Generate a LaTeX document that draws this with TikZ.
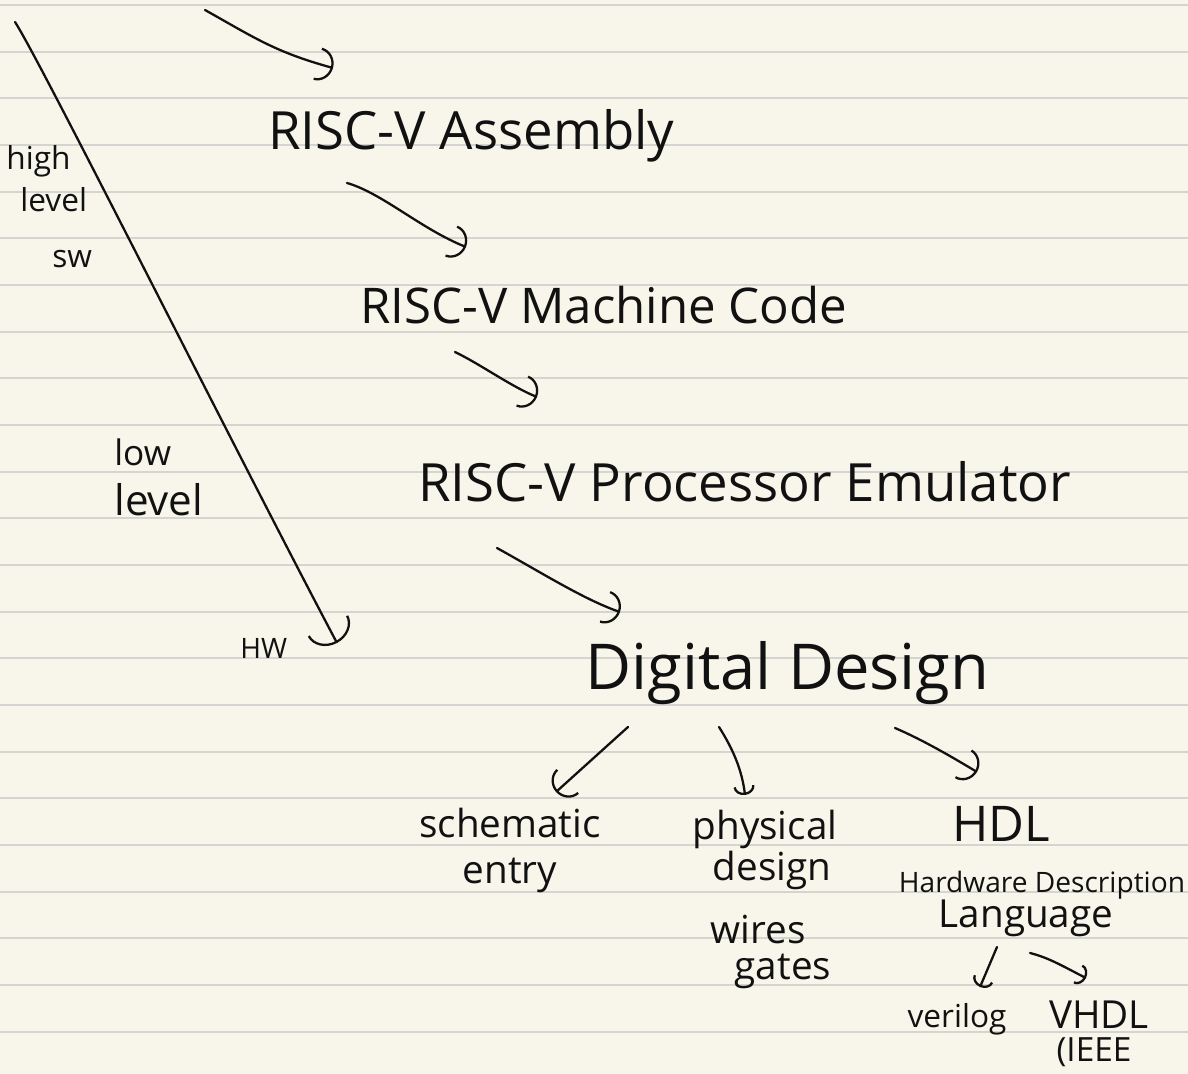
\documentclass[tikz,border=0pt]{standalone}
\usepackage{fontspec}
\setmainfont{Open Sans}
\usetikzlibrary{arrows.meta,calc}
\definecolor{paper}{RGB}{248,246,234}
\definecolor{ruling}{RGB}{212,212,208}
\definecolor{pen}{RGB}{17,17,17}
\newcommand{\hwsize}[1]{\fontsize{#1}{#1}\selectfont}

\begin{document}
\begin{tikzpicture}[x=0.02cm,y=-0.02cm,
  txt/.style={inner sep=0pt, anchor=base west, text=pen},
  ctr/.style={inner sep=0pt, anchor=base, text=pen},
  stroke/.style={line width=1.3pt, draw=pen, line cap=round, line join=round},
  flow/.style={stroke, -{Arc Barb[length=9pt,width=19pt]}},
  flowbig/.style={stroke, -{Arc Barb[length=11pt,width=26pt]}},
  flowsm/.style={stroke, -{Arc Barb[length=5pt,width=12pt]}},
]
% paper and ruled lines
\fill[paper] (0,0) rectangle (1188,1074);
\useasboundingbox (0,0) rectangle (1188,1074);
\foreach \k in {0,...,22}
  \draw[ruling, line width=1.1pt] (0,{5+46.667*\k}) -- (1188,{5+46.667*\k});

% main chain
\node[txt, font=\hwsize{30}] (asm) at (268,150) {RISC-V Assembly};
\node[txt, font=\hwsize{28}] (mc)  at (360,324) {RISC-V Machine Code};
\node[txt, font=\hwsize{30}] (emu) at (418,502) {RISC-V Processor Emulator};
\node[txt, font=\hwsize{36}] (dd)  at (585,690) {Digital Design};

% side scale
\node[txt, font=\hwsize{18}] (high) at (6,170)   {high};
\node[txt, font=\hwsize{18}] (lvla) at (20,212)  {level};
\node[txt, font=\hwsize{18}] (sw)   at (52,268)  {sw};
\node[txt, font=\hwsize{20}] (low)  at (114,466) {low};
\node[txt, font=\hwsize{24}] (lvlb) at (114,516) {level};
\node[txt, font=\hwsize{16}] (hw)   at (240,659) {HW};

% branches of digital design
\node[ctr, font=\hwsize{22}] (scha) at (510,838) {schematic};
\node[ctr, font=\hwsize{22}] (schb) at (510,884) {entry};
\node[ctr, font=\hwsize{22}] (phya) at (765,840) {physical};
\node[ctr, font=\hwsize{22}] (phyb) at (772,881) {design};
\node[ctr, font=\hwsize{22}] (wir)  at (758,943) {wires};
\node[ctr, font=\hwsize{22}] (gat)  at (783,979) {gates};
\node[ctr, font=\hwsize{28}] (hdl)  at (1001,842) {HDL};
\node[ctr, font=\hwsize{16}] (hdlf) at (1042,892) {Hardware Description};
\node[ctr, font=\hwsize{22}] (lang) at (1026,928) {Language};
\node[ctr, font=\hwsize{18}] (ver)  at (957,1027) {verilog};
\node[ctr, font=\hwsize{22}] (vhdl) at (1099,1028) {VHDL};
\node[ctr, font=\hwsize{19}] (ieee) at (1094,1061) {(IEEE};

% connectors
\coordinate (top) at (205,10);
\draw[flow] (top) .. controls (255,38) and (275,52) .. ($(asm.base west)+(65,-82)$);
\draw[flow] ($(asm.base west)+(79,33)$) .. controls +(35,10) and +(-45,-18) .. ($(mc.base west)+(106,-77)$);
\draw[flow] ($(mc.base west)+(95,28)$) .. controls +(25,12) and +(-25,-10) .. ($(emu.base west)+(119,-105)$);
\draw[flow] ($(emu.base west)+(79,46)$) .. controls +(45,25) and +(-35,-12) .. ($(dd.base west)+(35,-78)$);

\coordinate (scaletop) at (15,22);
\draw[flowbig] (scaletop) .. controls (40,60) and (235,450) .. ($(hw.base west)+(97,-16)$);

\draw[flow] ($(dd.base west)+(43,37)$) -- ($(scha.base)+(46,-46)$);
\draw[flowsm] ($(dd.base west)+(134,37)$) .. controls +(14,22) and +(-3,-25) .. ($(phya.base)+(-20,-45)$);
\draw[flow] ($(dd.base west)+(310,38)$) .. controls +(28,12) and +(-25,-15) .. ($(hdl.base)+(-24,-70)$);
\draw[flowsm] ($(lang.base)+(-29,19)$) -- ($(ver.base)+(23,-40)$);
\draw[flowsm] ($(lang.base)+(4,25)$) .. controls +(20,5) and +(-20,-10) .. ($(vhdl.base)+(-13,-50)$);
\end{tikzpicture}
\end{document}
